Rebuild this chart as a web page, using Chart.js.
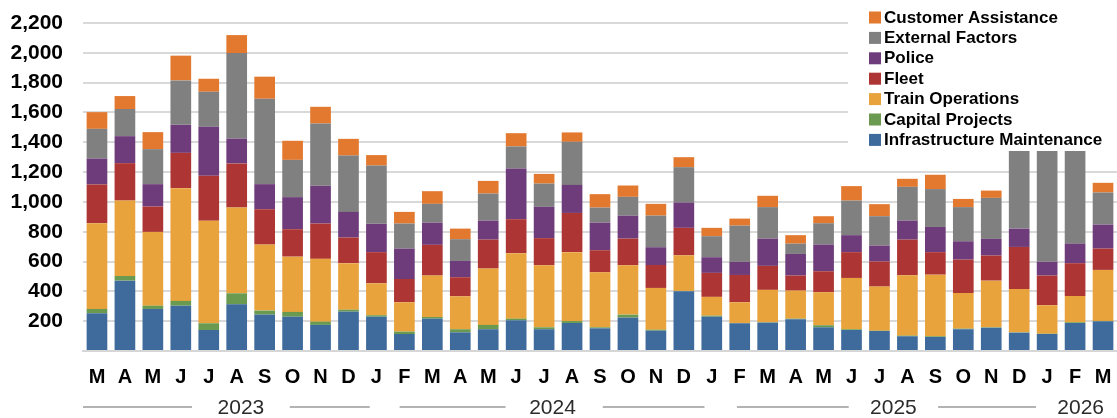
<!DOCTYPE html>
<html>
<head>
<meta charset="utf-8">
<script src="https://cdn.jsdelivr.net/npm/chart.js@4.4.1/dist/chart.umd.min.js"></script>
<style>
  html, body { margin: 0; padding: 0; background: #ffffff; }
  #wrap { width: 1117px; height: 418px; position: relative; }
</style>
</head>
<body>
<div id="wrap"><canvas id="c"></canvas></div>
<script>
const months = ['M','A','M','J','J','A','S','O','N','D','J','F','M','A','M','J','J','A','S','O','N','D','J','F','M','A','M','J','J','A','S','O','N','D','J','F','M'];
const years = ['2023','2024','2025','2026'];
const yTicks = [0,200,400,600,800,1000,1200,1400,1600,1800,2000,2200];

const infrastructureMaintenance = [253,472,282,304,141,313,244,230,175,264, 230,114,217,125,146,206,146,188,152,224,136,401, 230,186,190,213,159,141,134,99,94,146,156,123, 114,188,199];
const capitalProjects = [29,31,22,32,45,74,27,32,22,13, 10,16,11,21,29,11,13,13,7,20,7,2, 7,2,3,4,14,5,2,4,5,4,3,2, 2,5,3];
const trainOperations = [575,506,495,756,687,575,443,371,421,312, 214,197,278,221,378,439,416,462,369,331,280,239, 126,139,217,188,221,344,296,405,413,239,313,291, 191,176,342];
const fleet = [260,251,170,237,302,296,237,184,237,172, 209,156,206,128,194,228,182,263,148,179,154,184, 161,183,161,101,141,173,168,239,151,224,168,282, 199,220,143];
const police = [174,181,150,188,329,167,168,215,253,172, 190,204,149,109,128,340,210,188,185,154,119,170, 105,88,183,145,179,114,107,128,169,123,112,123, 92,131,161];
const externalFactors = [199,182,235,298,235,573,573,250,418,378, 391,168,126,146,181,148,156,289,101,126,212,237, 141,243,211,69,143,232,197,226,254,229,275,700, 950,820,215];
const customerAssistance = [112,87,114,166,87,121,148,128,112,112, 70,78,85,71,85,89,65,63,90,76,79,67, 56,47,76,57,47,97,81,54,96,55,49,70, 60,65,65];

const FONT = "'Liberation Sans', Arial, Helvetica, sans-serif";

const series = [
  { label: 'Infrastructure Maintenance', data: infrastructureMaintenance, color: '#3f6a9c' },
  { label: 'Capital Projects', data: capitalProjects, color: '#6a9a4f' },
  { label: 'Train Operations', data: trainOperations, color: '#e8a33d' },
  { label: 'Fleet', data: fleet, color: '#ad3634' },
  { label: 'Police', data: police, color: '#6e3c7b' },
  { label: 'External Factors', data: externalFactors, color: '#7f807f' },
  { label: 'Customer Assistance', data: customerAssistance, color: '#e3792f' }
];

// Year group decorations (positions in category units from the left edge of the x scale)
const yearLayout = [
  { text: 5.65, lines: [[0, 3.9], [7.4, 10.26]] },
  { text: 16.8, lines: [[11.33, 15.12], [18.6, 22.24]] },
  { text: 29.0, lines: [[23.4, 27.4], [30.6, 34.1]] },
  { text: 35.7, lines: [] }
];

const yearPlugin = {
  id: 'yearPlugin',
  afterDraw(chart) {
    const ctx = chart.ctx;
    const xs = chart.scales.x;
    const unit = xs.width / months.length;
    const y = 407;
    ctx.save();
    ctx.strokeStyle = '#9a9a9a';
    ctx.lineWidth = 1.5;
    ctx.fillStyle = '#2b2b2b';
    ctx.font = "21px " + FONT;
    ctx.textAlign = 'center';
    ctx.textBaseline = 'middle';
    yearLayout.forEach((g, i) => {
      g.lines.forEach(([a, b]) => {
        ctx.beginPath();
        ctx.moveTo(xs.left + a * unit, y);
        ctx.lineTo(xs.left + b * unit, y);
        ctx.stroke();
      });
      ctx.fillText(years[i], xs.left + g.text * unit, y + 1);
    });
    ctx.restore();
  }
};

const legendPlugin = {
  id: 'legendPlugin',
  afterDraw(chart) {
    const ctx = chart.ctx;
    ctx.save();
    ctx.fillStyle = '#ffffff';
    ctx.fillRect(848, 0, 1117 - 848, 151);
    ctx.font = "bold 17px " + FONT;
    ctx.textBaseline = 'middle';
    ctx.textAlign = 'left';
    const items = chart.data.datasets.slice().reverse();
    items.forEach((ds, i) => {
      const cy = 17.5 + i * 20.4;
      ctx.fillStyle = ds.backgroundColor;
      ctx.fillRect(869, cy - 6, 12, 12);
      ctx.fillStyle = '#000000';
      ctx.fillText(ds.label, 884, cy + 0.5);
    });
    ctx.restore();
  }
};

new Chart(document.getElementById('c'), {
  type: 'bar',
  data: {
    labels: months,
    datasets: series.map(s => ({
      label: s.label,
      data: s.data,
      backgroundColor: s.color,
      borderWidth: 0,
      barPercentage: 0.74,
      categoryPercentage: 1.0
    }))
  },
  options: {
    responsive: true,
    maintainAspectRatio: false,
    animation: false,
    layout: { autoPadding: false, padding: { top: 23, left: 0, right: 0, bottom: 0 } },
    plugins: {
      legend: { display: false },
      tooltip: { enabled: false },
      title: { display: false }
    },
    scales: {
      x: {
        stacked: true,
        grid: { display: false, drawTicks: false },
        border: { display: true, color: '#d6d6d6', width: 2 },
        ticks: {
          color: '#000000',
          font: { family: FONT, size: 20, weight: 'bold' },
          padding: 14,
          maxRotation: 0,
          autoSkip: false
        },
        afterFit(scale) { scale.height = 67; scale.paddingLeft = 0; scale.paddingRight = 0; }
      },
      y: {
        stacked: true,
        min: 0,
        max: 2200,
        afterBuildTicks(scale) { scale.ticks = yTicks.map(v => ({ value: v })); },
        grid: { color: '#d9d9d9', lineWidth: 2, drawTicks: false },
        border: { display: false },
        ticks: {
          color: '#000000',
          font: { family: FONT, size: 21, weight: 'bold' },
          padding: 20,
          callback: v => v === 0 ? '' : v.toLocaleString('en-US')
        },
        afterFit(scale) { scale.width = 83; scale.paddingTop = 0; scale.paddingBottom = 0; }
      }
    }
  },
  plugins: [yearPlugin, legendPlugin]
});
</script>
</body>
</html>
